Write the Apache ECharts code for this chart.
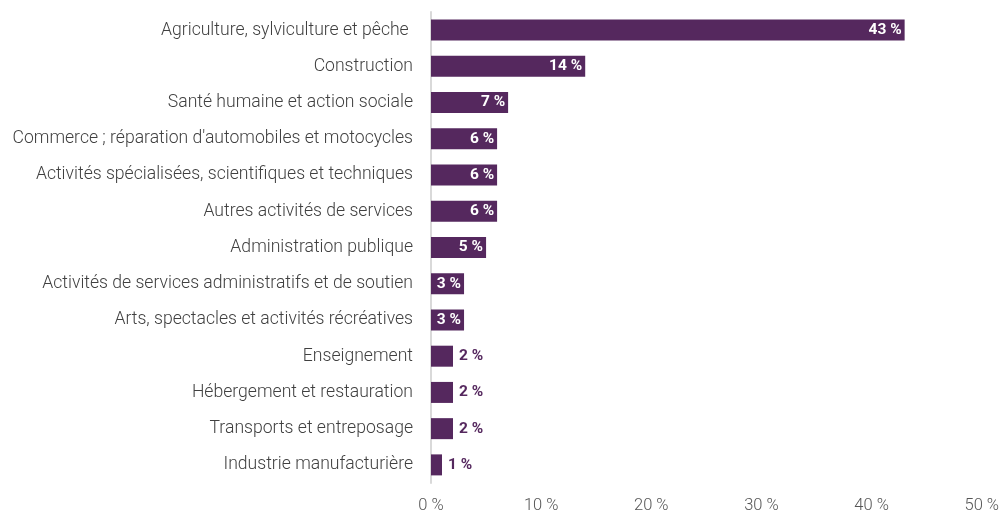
<!DOCTYPE html>
<html><head><meta charset="utf-8">
<script src="https://cdn.jsdelivr.net/npm/echarts@6/dist/echarts.min.js"></script>
<style>html,body{margin:0;padding:0;background:#fff}#c{width:1002px;height:514px}</style>
</head><body><div id="c"></div>
<script>
const categories = [
  "Agriculture, sylviculture et pêche ",
  "Construction",
  "Santé humaine et action sociale",
  "Commerce ; réparation d'automobiles et motocycles",
  "Activités spécialisées, scientifiques et techniques",
  "Autres activités de services",
  "Administration publique",
  "Activités de services administratifs et de soutien",
  "Arts, spectacles et activités récréatives",
  "Enseignement",
  "Hébergement et restauration",
  "Transports et entreposage",
  "Industrie manufacturière"
];
const values = [43, 14, 7, 6, 6, 6, 5, 3, 3, 2, 2, 2, 1];
const insideThreshold = 3;
const font = "Roboto, 'Noto Sans', sans-serif";
const purple = "#55285e";
const chart = echarts.init(document.getElementById('c'));
chart.setOption({
  animation: false,
  grid: {left: 431, right: 16, top: 12, bottom: 30, containLabel: false},
  xAxis: {
    type: 'value', min: 0, max: 50, interval: 10,
    axisLine: {show: false}, axisTick: {show: false}, splitLine: {show: false},
    axisLabel: {formatter: '{value} %', color: '#555', fontSize: 16.5, fontWeight: 300, fontFamily: font, margin: 14}
  },
  yAxis: {
    type: 'category', inverse: true, data: categories,
    axisLine: {show: true, lineStyle: {color: '#d9d9d9', width: 2}},
    axisTick: {show: false},
    axisLabel: {color: '#404040', fontSize: 17.6, fontWeight: 300, fontFamily: font, margin: 18, padding: [5, 0, 0, 0]}
  },
  series: [{
    type: 'bar', barWidth: 21,
    data: values.map(v => ({
      value: v,
      label: v >= insideThreshold
        ? {show: true, position: 'insideRight', color: '#fff', distance: 3}
        : {show: true, position: 'right', color: purple, distance: 6}
    })),
    itemStyle: {color: purple},
    label: {formatter: '{c} %', fontWeight: 'bold', fontSize: 15.5, fontFamily: font, padding: [2, 0, 0, 0]}
  }]
});
</script></body></html>
